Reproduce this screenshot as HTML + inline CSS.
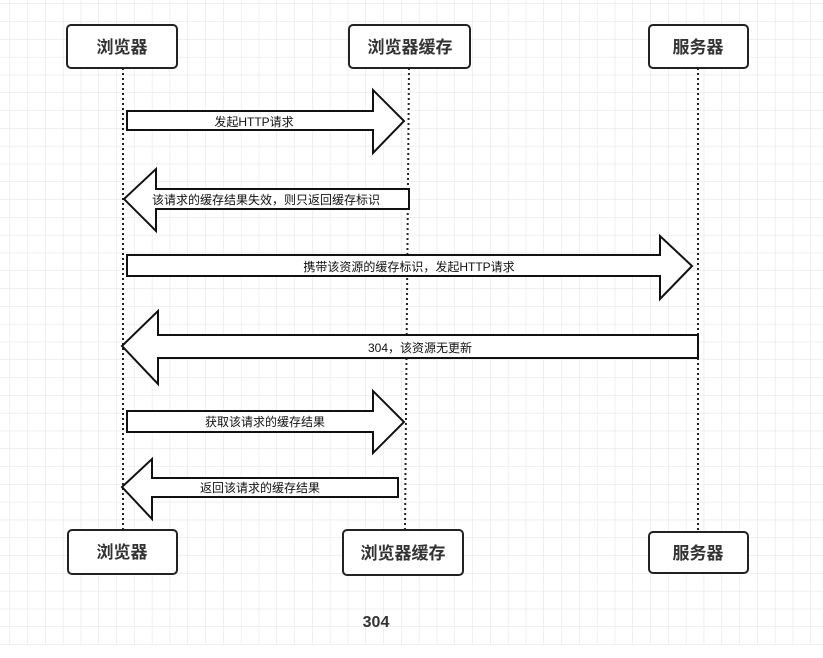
<!DOCTYPE html>
<html><head><meta charset="utf-8"><style>
body{margin:0;width:823px;height:653px;background:#fff;overflow:hidden;font-family:"Liberation Sans","Noto Sans CJK SC",sans-serif}
</style></head><body>
<svg width="823" height="653" xmlns="http://www.w3.org/2000/svg" font-family="Liberation Sans, Noto Sans CJK SC, sans-serif">
<defs><pattern id="g" width="17.8" height="17.8" patternUnits="userSpaceOnUse" x="10" y="4"><path d="M17.8 0V17.8M0 17.8H17.8" stroke="#e2e2e2" stroke-width="1" fill="none"/></pattern></defs>
<rect x="0" y="0" width="823" height="645" fill="url(#g)"/>
<g stroke="#222" stroke-width="2" stroke-dasharray="2,3" fill="none">
<line x1="123" y1="68" x2="123" y2="530"/>
<line x1="409" y1="68" x2="405" y2="530"/>
<line x1="698" y1="68" x2="698" y2="532"/>
</g>
<g fill="#fff" stroke="#222" stroke-width="2">
<rect x="67" y="25" width="110" height="43" rx="4"/>
<rect x="349" y="25" width="121" height="43" rx="4"/>
<rect x="649" y="25" width="99" height="43" rx="4"/>
<rect x="68" y="530" width="109" height="44" rx="4"/>
<rect x="343" y="530" width="120" height="45" rx="4"/>
<rect x="649" y="532" width="99" height="41" rx="4"/>
</g>
<g fill="#fff" stroke="#111" stroke-width="2">
<polygon points="127,111 373,111 373,90 404,121 373,153 373,130 127,130"/>
<polygon points="409,189 156,189 156,169 124,199 156,231 156,209 409,209"/>
<polygon points="127,255 660,255 660,236 692,266 660,299 660,276 127,276"/>
<polygon points="698,335 158,335 158,311 122,346 158,384 158,358 698,358"/>
<polygon points="127,411 373,411 373,391 404,422 373,453 373,432 127,432"/>
<polygon points="398,478 152,478 152,459 122,487 152,519 152,497 398,497"/>
</g>
<g font-size="17" fill="#333" text-anchor="middle" font-weight="bold">
<text x="122" y="53">浏览器</text>
<text x="410" y="53">浏览器缓存</text>
<text x="698" y="53">服务器</text>
<text x="122" y="558">浏览器</text>
<text x="403" y="559">浏览器缓存</text>
<text x="698" y="559">服务器</text>
</g>
<g font-size="12" fill="#111" text-anchor="middle">
<text x="254" y="126">发起HTTP请求</text>
<text x="266" y="204">该请求的缓存结果失效，则只返回缓存标识</text>
<text x="409" y="271">携带该资源的缓存标识，发起HTTP请求</text>
<text x="420" y="352">304，该资源无更新</text>
<text x="265" y="426">获取该请求的缓存结果</text>
<text x="260" y="492">返回该请求的缓存结果</text>
</g>
<text x="376" y="627" font-size="16" font-weight="bold" fill="#333" text-anchor="middle">304</text>
</svg>
</body></html>
